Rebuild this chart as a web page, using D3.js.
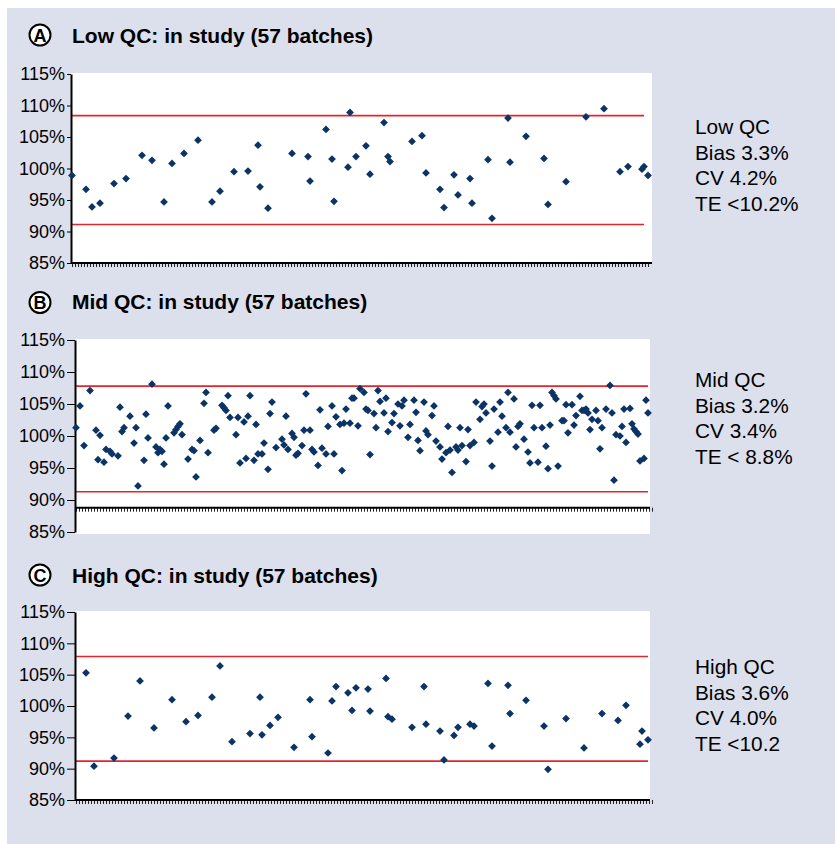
<!DOCTYPE html>
<html>
<head>
<meta charset="utf-8">
<script src="https://cdn.jsdelivr.net/npm/d3@7"></script>
<style>
    body { margin: 0; background: #fff; }
    svg { display: block; }
    text { font-family: "Liberation Sans", Arial, Helvetica, sans-serif; }
</style>
</head>
<body>
<svg id="chart" width="835" height="844"></svg>
<script>
// --- DATA ---
// y axis ticks (percent of target)
const yTicks = [85, 90, 95, 100, 105, 110, 115];
// number of run slots on the category axis
const runCount = 289;

// [run, % of target]
const lowQC = [[0,98.9],[7,96.7],[10,93.9],[14,94.5],[21,97.6],[27,98.4],[35,102.1],[40,101.3],[46,94.7],[50,100.8],
    [56,102.4],[63,104.5],[70,94.7],[74,96.4],[81,99.5],[88,99.6],[93,103.7],[94,97.1],[98,93.7],[110,102.4],
    [118,101.9],[119,98.0],[127,106.2],[130,101.5],[131,94.8],[138,100.2],[139,108.9],[142,101.9],[147,103.6],[149,99.1],
    [156,107.3],[158,101.9],[159,101.1],[170,104.3],[175,105.2],[177,99.3],[184,96.7],[186,93.8],[191,99.0],[193,95.8],
    [199,98.4],[200,94.5],[208,101.4],[210,92.1],[218,108.0],[219,101.0],[227,105.1],[236,101.6],[238,94.3],[247,97.9],
    [257,108.2],[266,109.5],[274,99.5],[278,100.3],[285,99.9],[286,100.3],[288,98.9]];

const midQC = [[0,101.3],[2,104.7],[4,98.5],[7,107.1],[10,100.9],[11,96.3],[12,100.1],[14,95.9],[15,97.9],[17,97.6],
    [18,97.2],[21,96.9],[22,104.5],[23,100.7],[24,101.3],[27,103.1],[29,98.9],[30,101.3],[31,92.2],[34,96.2],
    [35,103.4],[36,99.7],[38,108.1],[40,98.3],[41,97.4],[42,97.9],[43,97.6],[44,95.6],[45,99.7],[46,104.7],
    [49,100.5],[50,101.0],[51,101.5],[52,101.9],[53,100.2],[56,96.4],[58,97.9],[59,97.7],[60,93.6],[62,99.3],
    [64,105.1],[65,106.8],[66,97.4],[69,100.9],[70,101.2],[73,104.8],[74,104.4],[75,104.0],[76,106.3],[77,102.9],
    [80,100.2],[81,102.9],[82,95.8],[84,102.2],[85,96.5],[86,103.1],[87,106.3],[89,96.2],[90,101.8],[91,97.2],
    [93,97.2],[94,98.9],[96,94.8],[97,103.5],[98,105.3],[100,98.2],[103,99.5],[104,98.6],[105,103.1],[106,97.9],
    [108,100.4],[109,99.8],[110,97.0],[111,97.3],[113,98.5],[114,100.9],[115,106.6],[117,100.9],[118,97.9],[119,97.5],
    [121,95.4],[122,104.1],[123,98.1],[125,97.2],[126,101.5],[128,104.7],[129,97.2],[130,103.0],[132,101.8],[133,94.6],
    [134,102.0],[135,104.2],[137,102.0],[138,105.9],[139,105.9],[141,101.6],[142,107.4],[144,106.8],[145,104.2],[146,104.0],
    [147,97.1],[149,103.5],[150,101.3],[151,107.1],[152,105.4],[154,103.6],[155,105.9],[156,100.7],[158,102.1],[159,103.5],
    [161,105.0],[162,101.6],[163,104.7],[164,105.6],[166,99.8],[167,101.8],[169,105.6],[170,103.7],[171,99.3],[172,97.7],
    [174,105.3],[175,100.8],[176,100.2],[178,103.2],[179,104.7],[180,99.2],[182,98.3],[183,96.4],[185,97.4],[186,101.5],
    [187,97.8],[188,94.3],[190,98.3],[191,97.8],[192,101.3],[193,98.5],[195,96.0],[196,101.0],[197,98.5],[199,99.0],
    [200,105.3],[202,102.6],[203,104.6],[204,105.0],[205,103.6],[207,99.2],[208,95.3],[209,104.2],[211,100.6],[212,105.3],
    [213,103.1],[215,101.3],[216,106.8],[217,100.6],[219,105.8],[220,98.3],[221,101.5],[222,101.9],[224,99.5],[226,97.5],
    [227,95.8],[228,104.8],[229,101.3],[231,95.9],[232,104.8],[233,101.3],[235,98.4],[236,94.9],[237,101.7],[238,106.8],
    [239,106.3],[240,105.8],[241,95.3],[243,102.4],[244,102.4],[245,104.9],[246,100.5],[248,104.9],[249,101.7],[250,103.2],
    [252,106.2],[253,104.0],[254,104.0],[255,104.2],[256,103.6],[257,101.0],[258,102.6],[260,104.0],[261,102.4],[262,98.0],
    [263,101.3],[265,104.2],[267,107.9],[268,103.6],[269,93.1],[270,100.2],[272,100.0],[273,101.5],[274,104.2],[275,99.0],
    [277,104.3],[278,101.9],[279,101.1],[280,100.7],[281,100.3],[282,96.1],[284,96.5],[285,105.6],[286,103.6]];

const highQC = [[5,105.3],[9,90.4],[19,91.7],[26,98.4],[32,104.0],[39,96.5],[48,101.0],[55,97.5],[61,98.5],[68,101.4],
    [72,106.4],[78,94.3],[87,95.6],[92,101.4],[93,95.4],[97,96.9],[101,98.2],[109,93.4],[117,101.0],[118,95.1],
    [126,92.5],[128,100.8],[130,103.1],[136,102.1],[138,99.3],[140,102.9],[146,102.7],[147,99.2],[155,104.4],[156,98.3],
    [158,97.9],[168,96.6],[174,103.1],[175,97.1],[182,96.0],[184,91.4],[189,95.3],[191,96.6],[197,97.1],[199,96.8],
    [206,103.6],[208,93.6],[216,103.3],[217,98.8],[225,100.9],[234,96.8],[236,89.9],[245,98.0],[254,93.3],[263,98.8],
    [271,97.7],[275,100.1],[282,93.9],[283,96.0],[286,94.6]];

// control limits [lower, upper]
const lowLimits = [91.1, 108.4];
const midLimits = [91.3, 107.8];
const highLimits = [91.2, 107.9];
// last run reached by the limit lines
const limitEndRun = 286;

const lowStats = ["Low QC", "Bias 3.3%", "CV 4.2%", "TE <10.2%"];
const midStats = ["Mid QC", "Bias 3.2%", "CV 3.4%", "TE < 8.8%"];
const highStats = ["High QC", "Bias 3.6%", "CV 4.0%", "TE <10.2"];

// --- LAYOUT ---
const panels = [
    { letter: "A", title: "Low QC: in study (57 batches)", data: lowQC, limits: lowLimits, stats: lowStats,
      left: 71, right: 652, top: 74, bottom: 263, plotBottom: 263, axisAt: 85, titleY: 43, circleY: 35, statsY: 134 },
    { letter: "B", title: "Mid QC: in study (57 batches)", data: midQC, limits: midLimits, stats: midStats,
      left: 75, right: 650, top: 340, bottom: 532, plotBottom: 534, axisAt: 88.8, titleY: 309, circleY: 302.5, statsY: 387 },
    { letter: "C", title: "High QC: in study (57 batches)", data: highQC, limits: highLimits, stats: highStats,
      left: 75, right: 650, top: 612, bottom: 800, plotBottom: 800, axisAt: 85, titleY: 583, circleY: 575, statsY: 674 }
];

const svg = d3.select("#chart");

svg.append("rect")
    .attr("x", 7).attr("y", 8)
    .attr("width", 828).attr("height", 836)
    .attr("fill", "#dcdfec");

function drawPanel(p) {
    const g = svg.append("g");
    const x = d3.scaleLinear().domain([0, runCount - 1]).range([p.left + 1, p.left + 577]);
    const y = d3.scaleLinear().domain([85, 115]).range([p.bottom, p.top]);

    // plot area
    g.append("rect")
        .attr("x", p.left).attr("y", p.top - 1)
        .attr("width", p.right - p.left).attr("height", p.plotBottom - p.top + 1)
        .attr("fill", "#fff");

    // header
    g.append("circle")
        .attr("cx", 40).attr("cy", p.circleY).attr("r", 10.5)
        .attr("fill", "#fff").attr("stroke", "#000").attr("stroke-width", 2);
    g.append("text")
        .attr("x", 40).attr("y", p.circleY + 6.5)
        .attr("text-anchor", "middle")
        .attr("font-size", 18).attr("font-weight", "bold")
        .attr("fill", "#000")
        .text(p.letter);
    g.append("text")
        .attr("x", 72).attr("y", p.titleY)
        .attr("font-size", 21).attr("font-weight", "bold")
        .attr("fill", "#000")
        .text(p.title);

    // control limits
    g.selectAll("line.limit")
        .data(p.limits)
        .join("line")
        .attr("class", "limit")
        .attr("x1", x(0)).attr("x2", x(limitEndRun))
        .attr("y1", d => y(d)).attr("y2", d => y(d))
        .attr("stroke", "#e3262c").attr("stroke-width", 1.6);

    // x axis (category ticks)
    const xAxis = d3.axisBottom(x)
        .tickValues(d3.range(0, runCount, 1.5))
        .tickSize(4)
        .tickFormat("");
    const xg = g.append("g")
        .attr("transform", `translate(0,${y(p.axisAt)})`)
        .call(xAxis);
    xg.select(".domain").remove();
    xg.selectAll(".tick line").attr("stroke", "#222").attr("stroke-width", 1);
    g.append("line")
        .attr("x1", p.left).attr("x2", p.right)
        .attr("y1", y(p.axisAt)).attr("y2", y(p.axisAt))
        .attr("stroke", "#000").attr("stroke-width", 2);

    // y axis
    const yAxis = d3.axisLeft(y)
        .tickValues(yTicks)
        .tickFormat(d => d + "%")
        .tickSize(p.left - 67)
        .tickSizeOuter(0)
        .tickPadding(2);
    const yg = g.append("g")
        .attr("transform", `translate(${p.left},0)`)
        .call(yAxis);
    yg.select(".domain").attr("stroke", "#000").attr("stroke-width", 2);
    yg.selectAll(".tick line").attr("stroke", "#000");
    yg.selectAll(".tick text")
        .attr("font-size", 18)
        .attr("fill", "#000")
        .attr("font-family", "\"Liberation Sans\", Arial, sans-serif");

    // points
    g.selectAll("path.pt")
        .data(p.data)
        .join("path")
        .attr("class", "pt")
        .attr("d", d3.symbol(d3.symbolSquare, 30))
        .attr("transform", d => `translate(${x(d[0])},${y(d[1])}) rotate(45)`)
        .attr("fill", "#0b3366");

    // summary text
    g.selectAll("text.stat")
        .data(p.stats)
        .join("text")
        .attr("class", "stat")
        .attr("x", 695)
        .attr("y", (d, i) => p.statsY + i * 25.7)
        .attr("font-size", 20.8)
        .attr("fill", "#000")
        .text(d => d);
}

panels.forEach(drawPanel);
</script>
</body>
</html>
